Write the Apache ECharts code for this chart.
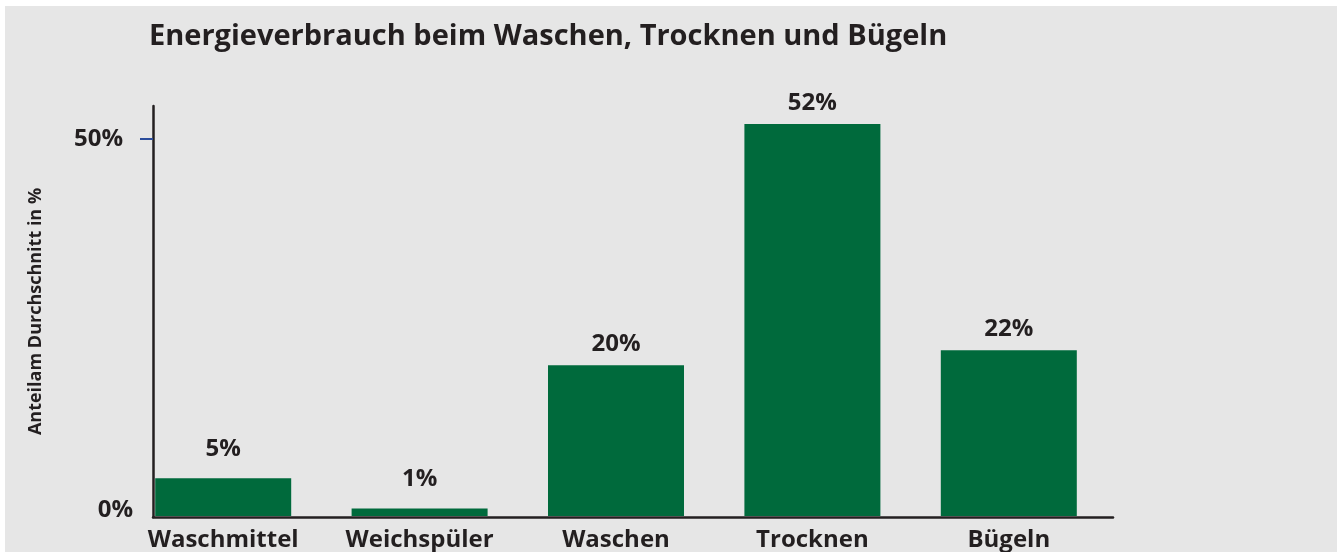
<html><head>
<meta charset="UTF-8">
<title>Energieverbrauch beim Waschen, Trocknen und Bügeln</title>
<style>
  body {
    margin: 0;
    background-color: #fff;
  }
  #chart {
    position: absolute;
    left: 5px;
    top: 6px;
    width: 1332px;
    height: 546px;
    background-color: #e6e6e6;
  }
</style>
</head>
<body>
  <div id="chart"></div>

  <script src="https://cdn.jsdelivr.net/npm/echarts@6/dist/echarts.min.js"></script>
  <script>
    // Daten
    const categories = ['Waschmittel', 'Weichspüler', 'Waschen', 'Trocknen', 'Bügeln'];
    const shares = [5, 1, 20, 52, 22];
    const yTicks = [0, 50];

    const textColor = '#231f20';
    const font = '"Open Sans", sans-serif';
    const yMax = 54.4;

    const chart = echarts.init(document.getElementById('chart'));

    // kleine Balken: Beschriftung etwas höher
    const barData = shares.map(v => ({
      value: v,
      label: { distance: v < 10 ? 17 : 9 }
    }));

    const option = {
      animation: false,
      title: {
        text: 'Energieverbrauch beim Waschen, Trocknen und Bügeln',
        left: 139,
        top: 11,
        textStyle: {
          fontFamily: font,
          fontWeight: 'bold',
          fontSize: 29,
          color: textColor
        }
      },
      grid: [
        // Balken
        { left: 120, right: 230, top: 100, bottom: 35 },
        // Achsen
        { left: 148, right: 224, top: 100, bottom: 35 }
      ],
      xAxis: [
        {
          type: 'category',
          gridIndex: 0,
          data: categories,
          axisLine: { show: false },
          axisTick: { show: false },
          axisLabel: {
            margin: 12,
            fontFamily: font,
            fontWeight: 'bold',
            fontSize: 24,
            color: textColor
          }
        },
        {
          type: 'value',
          gridIndex: 1,
          min: 0,
          max: 1,
          axisLine: { show: true, lineStyle: { color: textColor, width: 2.5 } },
          axisTick: { show: false },
          axisLabel: { show: false },
          splitLine: { show: false }
        }
      ],
      yAxis: [
        {
          type: 'value',
          gridIndex: 0,
          min: 0,
          max: yMax,
          show: false
        },
        {
          type: 'value',
          gridIndex: 1,
          min: 0,
          max: yMax,
          interval: 50,
          name: 'Anteilam Durchschnitt in %',
          nameLocation: 'middle',
          nameGap: 108,
          nameRotate: 90,
          nameTextStyle: {
            fontFamily: font,
            fontWeight: 'bold',
            fontSize: 18,
            color: textColor
          },
          axisLine: { show: true, lineStyle: { color: textColor, width: 2.5 } },
          axisTick: {
            show: true,
            customValues: [50],
            length: 13,
            lineStyle: { color: '#2b4c9b', width: 2 }
          },
          axisLabel: {
            customValues: yTicks,
            margin: 20,
            formatter: v => v === 0 ? '{z|0%}' : '{f|' + v + '%}',
            rich: {
              z: {
                fontFamily: font, fontWeight: 'bold', fontSize: 24, color: textColor,
                padding: [0, 0, 14, 0]
              },
              f: {
                fontFamily: font, fontWeight: 'bold', fontSize: 24, color: textColor,
                padding: [0, 10, 0, 0]
              }
            }
          },
          splitLine: { show: false }
        }
      ],
      series: [
        {
          type: 'bar',
          xAxisIndex: 0,
          yAxisIndex: 0,
          data: barData,
          barWidth: 136,
          itemStyle: { color: '#006a3c' },
          label: {
            show: true,
            position: 'top',
            formatter: '{c}%',
            fontFamily: font,
            fontWeight: 'bold',
            fontSize: 24,
            color: textColor
          }
        }
      ]
    };

    chart.setOption(option);
  </script>
</body></html>
